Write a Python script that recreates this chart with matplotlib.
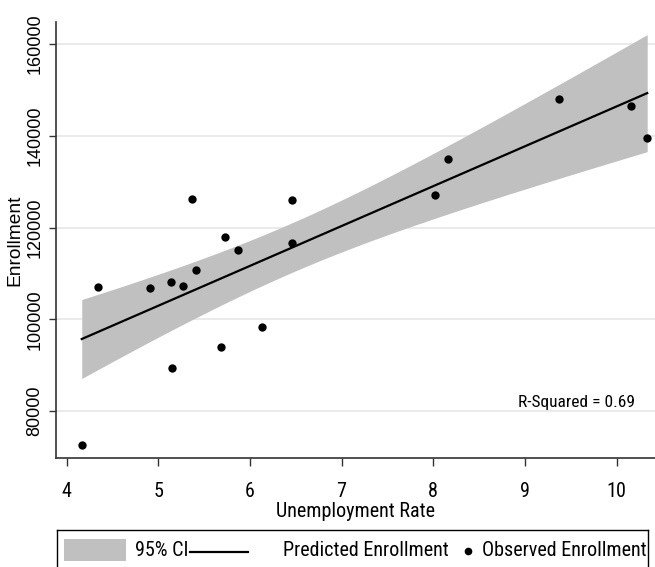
import numpy as np
import matplotlib.pyplot as plt
from matplotlib.patches import Rectangle

# Data
unemployment = [4.164, 4.338, 4.909, 5.142, 5.153, 5.273, 5.371, 5.408, 5.681, 5.732,
                5.867, 6.135, 6.460, 6.463, 8.017, 8.166, 9.375, 10.16, 10.335]
enrollment = [72580, 107110, 106890, 108070, 89310, 107260, 126240, 110750, 94030, 117880,
              115050, 98320, 116570, 126020, 127180, 134960, 147980, 146450, 139540]
r_squared = 0.69
t_crit = 2.110  # t(0.975, df=17)

x = np.array(unemployment)
y = np.array(enrollment)

# OLS fit with 95% CI of the mean
slope, intercept = np.polyfit(x, y, 1)
n = len(x)
resid = y - (slope * x + intercept)
s = np.sqrt(np.sum(resid ** 2) / (n - 2))
xs = np.linspace(x.min(), x.max(), 200)
fit = slope * xs + intercept
se = s * np.sqrt(1 / n + (xs - x.mean()) ** 2 / np.sum((x - x.mean()) ** 2))
lower = fit - t_crit * se
upper = fit + t_crit * se

narrow = ['Roboto Condensed', 'Liberation Sans', 'DejaVu Sans']
wide = ['Liberation Sans', 'DejaVu Sans']
plt.rcParams['font.family'] = narrow

band_color = '#c0c0c0'
axis_color = '#333333'
W, H = 655, 567
fig = plt.figure(figsize=(W / 100, H / 100), dpi=100)
ax = fig.add_axes([56 / W, 1 - 458 / H, (W - 56) / W, (458 - 21.7) / H])

ax.fill_between(xs, lower, upper, color=band_color, lw=0, zorder=1)
ax.plot(xs, fit, color='black', lw=1.6, zorder=2)
ax.scatter(x, y, s=36, color='black', zorder=3, linewidths=0)

ax.set_xlim(3.883, 10.42)
ax.set_ylim(69750, 164900)
ax.set_xticks(range(4, 11))
ax.set_yticks(range(80000, 160001, 20000))
ax.grid(axis='y', color='#e6e6e6', lw=1.2, zorder=0)
ax.set_axisbelow(True)

for side in ['top', 'right']:
    ax.spines[side].set_visible(False)
for side in ['left', 'bottom']:
    ax.spines[side].set_color(axis_color)
    ax.spines[side].set_linewidth(1.2)

ax.tick_params(axis='x', length=6, width=1, color=axis_color, labelsize=14.5, pad=11)
ax.tick_params(axis='y', length=5, width=1, color=axis_color, pad=4)
for lab in ax.get_yticklabels():
    lab.set_rotation(90)
    lab.set_va('center')
    lab.set_family(wide)
    lab.set_fontsize(13)

ax.set_xlabel('Unemployment Rate', fontsize=14.5, labelpad=1)
ax.set_ylabel('Enrollment', fontsize=13.8, family=wide, labelpad=2)

ax.text(10.204, 81960, f'R-Squared = {r_squared:.2f}', fontsize=12.5,
        ha='right', va='center')

# Legend box, laid out like the original (Stata-style, bottom edge off the figure)
lax = fig.add_axes([57.3 / W, -20 / H, 590.4 / W, 57 / H])
lax.set_xlim(57.3, 647.7)
lax.set_ylim(587, 530)
lax.set_xticks([])
lax.set_yticks([])
for sp in lax.spines.values():
    sp.set_color('black')
    sp.set_linewidth(1)
lax.add_patch(Rectangle((64, 539), 62, 22, color=band_color, lw=0))
lax.text(135, 551, '95% CI', fontsize=14.5, va='center')
lax.plot([190, 248], [552, 552], color='black', lw=1.6)
lax.text(283, 551, 'Predicted Enrollment', fontsize=14.5, va='center')
lax.plot([467.7], [551], 'o', color='black', ms=5.5, mew=0)
lax.text(481.7, 551, 'Observed Enrollment', fontsize=14.5, va='center')

fig.savefig('out.png', dpi=100)
